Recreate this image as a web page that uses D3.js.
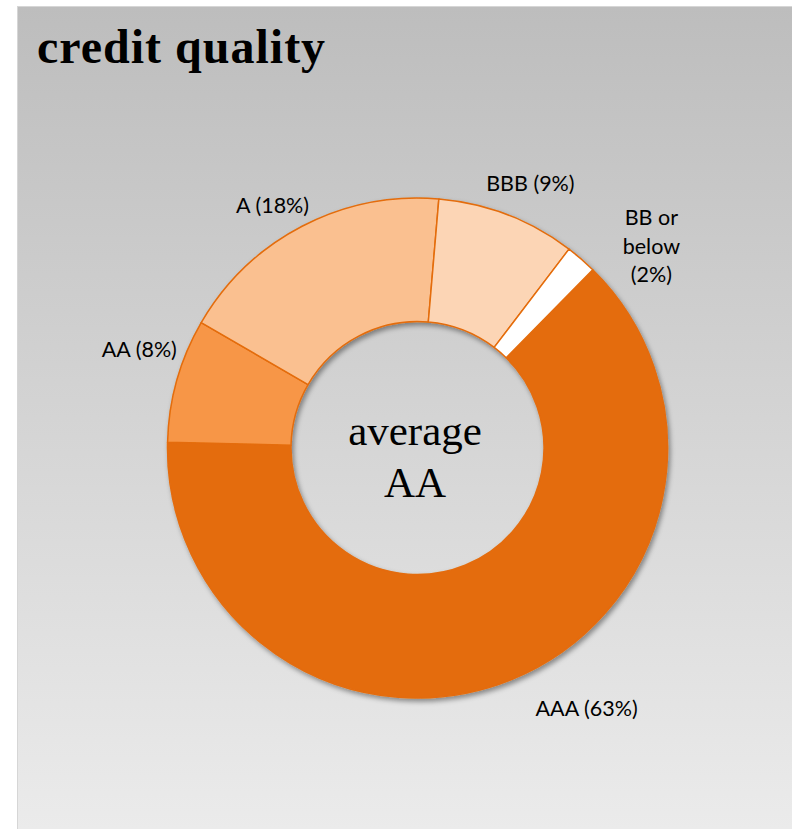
<!DOCTYPE html>
<html>
<head>
<meta charset="utf-8">
<script src="https://cdn.jsdelivr.net/npm/d3@7"></script>
<style>
  html, body { margin: 0; padding: 0; background: #ffffff; }
  svg { display: block; }
</style>
</head>
<body>
<div id="chart"></div>
<script>
// Credit quality breakdown (share of portfolio, %)
const categories = ["AAA", "AA", "A", "BBB", "BB or below"];
const shares = [63, 8, 18, 9, 2];
const labelLines = [["AAA (63%)"], ["AA (8%)"], ["A (18%)"], ["BBB (9%)"], ["BB or", "below", "(2%)"]];
const sliceColors = ["#e46c0a", "#f79646", "#fac090", "#fcd5b5", "#ffffff"];
const titleText = "credit quality";
const centerLines = ["average", "AA"];

const W = 792, H = 829;
const cx = 417.5, cy = 448;
const outerR = 250, innerR = 126.5;
const labelR = 290;
// small per-label nudges from the polar anchor (label layout only)
const labelNudge = [[60, -8.5], [1, -20.5], [-11, 14.5], [8.5, 6], [44, 17]];

const svg = d3.select("#chart").append("svg")
  .attr("width", W).attr("height", H);

const defs = svg.append("defs");
const grad = defs.append("linearGradient")
  .attr("id", "bg").attr("x1", 0).attr("y1", 0).attr("x2", 0).attr("y2", 1);
grad.append("stop").attr("offset", "0%").attr("stop-color", "#bdbdbd");
grad.append("stop").attr("offset", "100%").attr("stop-color", "#ebebeb");

const shadow = defs.append("filter").attr("id", "ringShadow")
  .attr("x", "-20%").attr("y", "-20%").attr("width", "140%").attr("height", "140%");
shadow.append("feDropShadow")
  .attr("dx", 2).attr("dy", 3).attr("stdDeviation", 2.5)
  .attr("flood-color", "#000").attr("flood-opacity", 0.4);

// panel
svg.append("rect")
  .attr("x", 17.5).attr("y", 6.5)
  .attr("width", W - 17).attr("height", H - 6)
  .attr("fill", "url(#bg)")
  .attr("stroke", "#d6d6d6").attr("stroke-width", 1);

// title
svg.append("text")
  .attr("x", 37).attr("y", 63)
  .attr("font-family", "'Liberation Serif', 'Times New Roman', serif")
  .attr("font-weight", "bold")
  .attr("font-size", 48)
  .attr("letter-spacing", 1)
  .attr("fill", "#000")
  .text(titleText);

// donut
const deg = Math.PI / 180;
const pie = d3.pie().sort(null).value(d => d)
  .startAngle(44.5 * deg).endAngle(404.5 * deg);
const arcs = pie(shares);
const arc = d3.arc().innerRadius(innerR).outerRadius(outerR);
const labelArc = d3.arc().innerRadius(labelR).outerRadius(labelR);

const g = svg.append("g").attr("transform", `translate(${cx},${cy})`);
g.append("g").attr("filter", "url(#ringShadow)")
  .selectAll("path").data(arcs).join("path")
  .attr("d", arc)
  .attr("fill", (d, i) => sliceColors[i])
  .attr("stroke", "#e46c0a")
  .attr("stroke-width", 1.5)
  .attr("stroke-linejoin", "round");

// slice labels
const labelFont = 21.5, lineH = 28.5, capHalf = 7.7;
const labels = g.selectAll("text.slice-label").data(arcs).join("text")
  .attr("class", "slice-label")
  .attr("font-family", "Lato, 'Open Sans', sans-serif")
  .attr("font-size", labelFont)
  .attr("fill", "#000")
  .attr("text-anchor", "middle");
labels.each(function(d, i) {
  const [px, py] = labelArc.centroid(d);
  const x = px + labelNudge[i][0];
  const y = py + labelNudge[i][1];
  const lines = labelLines[i];
  const first = y - (lines.length - 1) * lineH / 2 + capHalf;
  d3.select(this).selectAll("tspan").data(lines).join("tspan")
    .attr("x", x)
    .attr("y", (t, k) => first + k * lineH)
    .text(t => t);
});

// center caption
g.append("text")
  .attr("text-anchor", "middle")
  .attr("font-family", "'Liberation Serif', 'Times New Roman', serif")
  .attr("font-size", 43)
  .attr("fill", "#000")
  .selectAll("tspan").data(centerLines).join("tspan")
  .attr("x", -2.5)
  .attr("y", (t, k) => -3 + k * 52)
  .text(t => t);
</script>
</body>
</html>
